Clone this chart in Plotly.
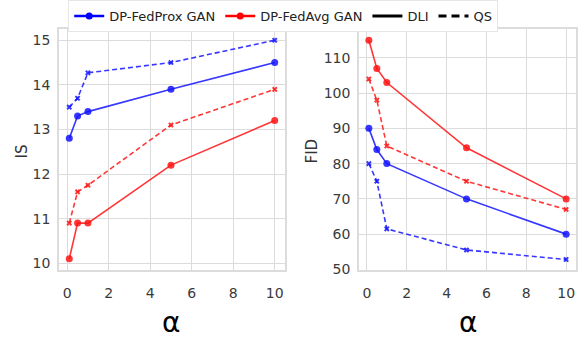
import plotly.graph_objects as go

alpha = [0.1, 0.5, 1, 5, 10]
is_prox_dli = [12.8, 13.3, 13.4, 13.9, 14.5]
is_prox_qs = [13.5, 13.7, 14.27, 14.5, 15.0]
is_avg_dli = [10.1, 10.9, 10.9, 12.2, 13.2]
is_avg_qs = [10.9, 11.6, 11.75, 13.1, 13.9]
fid_prox_dli = [90, 84, 80, 70, 60]
fid_prox_qs = [80, 75, 61.5, 55.5, 52.8]
fid_avg_dli = [115, 107, 103, 84.5, 70]
fid_avg_qs = [104, 98, 85, 75, 67]

BLUE = "rgba(20,20,255,0.85)"
RED = "rgba(255,20,20,0.85)"

fig = go.Figure()

def add(x, y, color, dash, xa, ya):
    sym = "circle" if dash == "solid" else "x"
    size = 7 if dash == "solid" else 5
    fig.add_trace(go.Scatter(x=x, y=y, mode="lines+markers", xaxis=xa, yaxis=ya,
                             line=dict(color=color, width=1.6, dash="solid" if dash == "solid" else "5px,3px"),
                             marker=dict(symbol=sym, size=size, color=color), showlegend=False))

add(alpha, is_prox_qs, BLUE, "dash", "x", "y")
add(alpha, is_prox_dli, BLUE, "solid", "x", "y")
add(alpha, is_avg_qs, RED, "dash", "x", "y")
add(alpha, is_avg_dli, RED, "solid", "x", "y")
add(alpha, fid_prox_qs, BLUE, "dash", "x2", "y2")
add(alpha, fid_prox_dli, BLUE, "solid", "x2", "y2")
add(alpha, fid_avg_qs, RED, "dash", "x2", "y2")
add(alpha, fid_avg_dli, RED, "solid", "x2", "y2")

# legend-only entries
fig.add_trace(go.Scatter(x=[None], y=[None], mode="lines+markers", name="DP-FedProx GAN",
                         line=dict(color="blue", width=2.5), marker=dict(size=7, color="blue")))
fig.add_trace(go.Scatter(x=[None], y=[None], mode="lines+markers", name="DP-FedAvg GAN",
                         line=dict(color="red", width=2.5), marker=dict(size=7, color="red")))
fig.add_trace(go.Scatter(x=[None], y=[None], mode="lines", name="DLI",
                         line=dict(color="black", width=3)))
fig.add_trace(go.Scatter(x=[None], y=[None], mode="lines", name="QS",
                         line=dict(color="black", width=3, dash="8px,5px")))

GRID = "#dcdcdc"
TICKF = dict(family="DejaVu Sans", size=14, color="#3a3a3a")
common = dict(showgrid=True, gridcolor=GRID, gridwidth=1, showline=True, linecolor=GRID,
              linewidth=1.5, mirror=True, zeroline=False, tickfont=TICKF, ticks="")

fig.update_layout(
    width=578, height=352, margin=dict(l=0, r=0, t=0, b=0),
    plot_bgcolor="white", paper_bgcolor="white",
    xaxis=dict(domain=[59/578, 285/578], range=[-0.395, 10.495], tickvals=[0, 2, 4, 6, 8, 10],
               anchor="y", ticklabelstandoff=10, **common),
    yaxis=dict(domain=[1-276/352, 1-30/352], range=[9.855, 15.245], tickvals=[10, 11, 12, 13, 14, 15],
               anchor="x", ticklabelstandoff=4, **common),
    xaxis2=dict(domain=[359/578, 576/578], range=[-0.395, 10.495], tickvals=[0, 2, 4, 6, 8, 10],
                anchor="y2", ticklabelstandoff=10, **common),
    yaxis2=dict(domain=[1-276/352, 1-30/352], range=[49.9, 118.1], tickvals=[50, 60, 70, 80, 90, 100, 110],
                anchor="x2", ticklabelstandoff=4, **common),
    legend=dict(orientation="h", x=0.49, xanchor="center", y=1.0, yanchor="top",
                font=dict(family="DejaVu Sans", size=13, color="#222"),
                bordercolor="#e6e6e6", borderwidth=1, bgcolor="white", itemwidth=30,
                tracegroupgap=0),
    annotations=[
        dict(text="IS", x=22/578, y=1-155/352, xref="paper", yref="paper", textangle=-90,
             xanchor="center", yanchor="middle",
             showarrow=False, font=dict(family="DejaVu Sans", size=15, color="#333")),
        dict(text="FID", x=312/578, y=1-155/352, xref="paper", yref="paper", textangle=-90,
             xanchor="center", yanchor="middle",
             showarrow=False, font=dict(family="DejaVu Sans", size=15, color="#333")),
        dict(text="α", x=171/578, y=1-330/352, xref="paper", yref="paper",
             xanchor="center", yanchor="middle",
             showarrow=False, font=dict(family="DejaVu Sans", size=28, color="black")),
        dict(text="α", x=468/578, y=1-330/352, xref="paper", yref="paper",
             xanchor="center", yanchor="middle",
             showarrow=False, font=dict(family="DejaVu Sans", size=28, color="black")),
    ],
)

fig.write_html("out.html")
